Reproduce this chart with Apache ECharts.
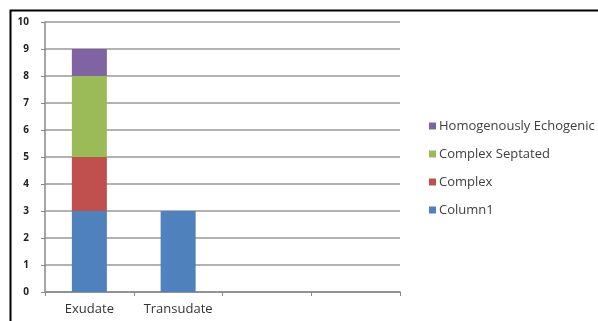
<!DOCTYPE html>
<html>
<head>
<meta charset="utf-8">
<script src="https://cdn.jsdelivr.net/npm/echarts@6/dist/echarts.min.js"></script>
<style>html,body{margin:0;padding:0;background:#fff;}#c{width:598px;height:321px;}</style>
</head>
<body>
<div id="c"></div>
<script>
var categories = ["Exudate", "Transudate", "", ""];
var column1 = [3, 3, 0, 0];
var complex = [2, 0, 0, 0];
var complexSeptated = [3, 0, 0, 0];
var homogenouslyEchogenic = [1, 0, 0, 0];
var seriesNames = ["Column1", "Complex", "Complex Septated", "Homogenously Echogenic"];
var yTicks = [0, 1, 2, 3, 4, 5, 6, 7, 8, 9, 10];

var colors = ["#4F81BD", "#C0504D", "#9BBB59", "#8064A2"];
var values = [column1, complex, complexSeptated, homogenouslyEchogenic];

var chart = echarts.init(document.getElementById('c'), null, {renderer: 'canvas'});
var series = seriesNames.map(function (n, i) {
  return {
    name: n, type: 'bar', stack: 's', data: values[i], barWidth: 35,
    itemStyle: {color: colors[i]}
  };
});
chart.setOption({
  animation: false,
  textStyle: {fontFamily: 'Open Sans'},
  grid: {left: 45, right: 198, top: 22, bottom: 29, containLabel: false},
  graphic: [{
    type: 'rect', shape: {x: 10.5, y: 10.5, width: 600, height: 320},
    style: {fill: 'none', stroke: '#000', lineWidth: 2}, z: 100
  }],
  legend: {
    orient: 'vertical', left: 424, top: 114,
    itemWidth: 7, itemHeight: 7, itemGap: 14,
    data: seriesNames.slice().reverse(),
    textStyle: {fontSize: 13, lineHeight: 14, color: '#404040', fontFamily: 'Open Sans', padding: [0, 0, 0, -2]},
    icon: 'rect'
  },
  xAxis: {
    type: 'category', data: categories,
    axisLine: {lineStyle: {color: '#888', width: 1.5}},
    axisTick: {show: true, length: 4, lineStyle: {color: '#888'}},
    axisLabel: {fontSize: 13, color: '#333', margin: 11, interval: 0}
  },
  yAxis: {
    type: 'value', min: yTicks[0], max: yTicks[yTicks.length - 1], interval: 1,
    axisLine: {show: true, lineStyle: {color: '#888', width: 1.5}},
    axisTick: {show: true, length: 4, lineStyle: {color: '#888'}},
    splitLine: {lineStyle: {color: '#999', width: 1.5}},
    axisLabel: {fontSize: 10, color: '#222', fontWeight: 'bold', margin: 16}
  },
  series: series
});
</script>
</body>
</html>
